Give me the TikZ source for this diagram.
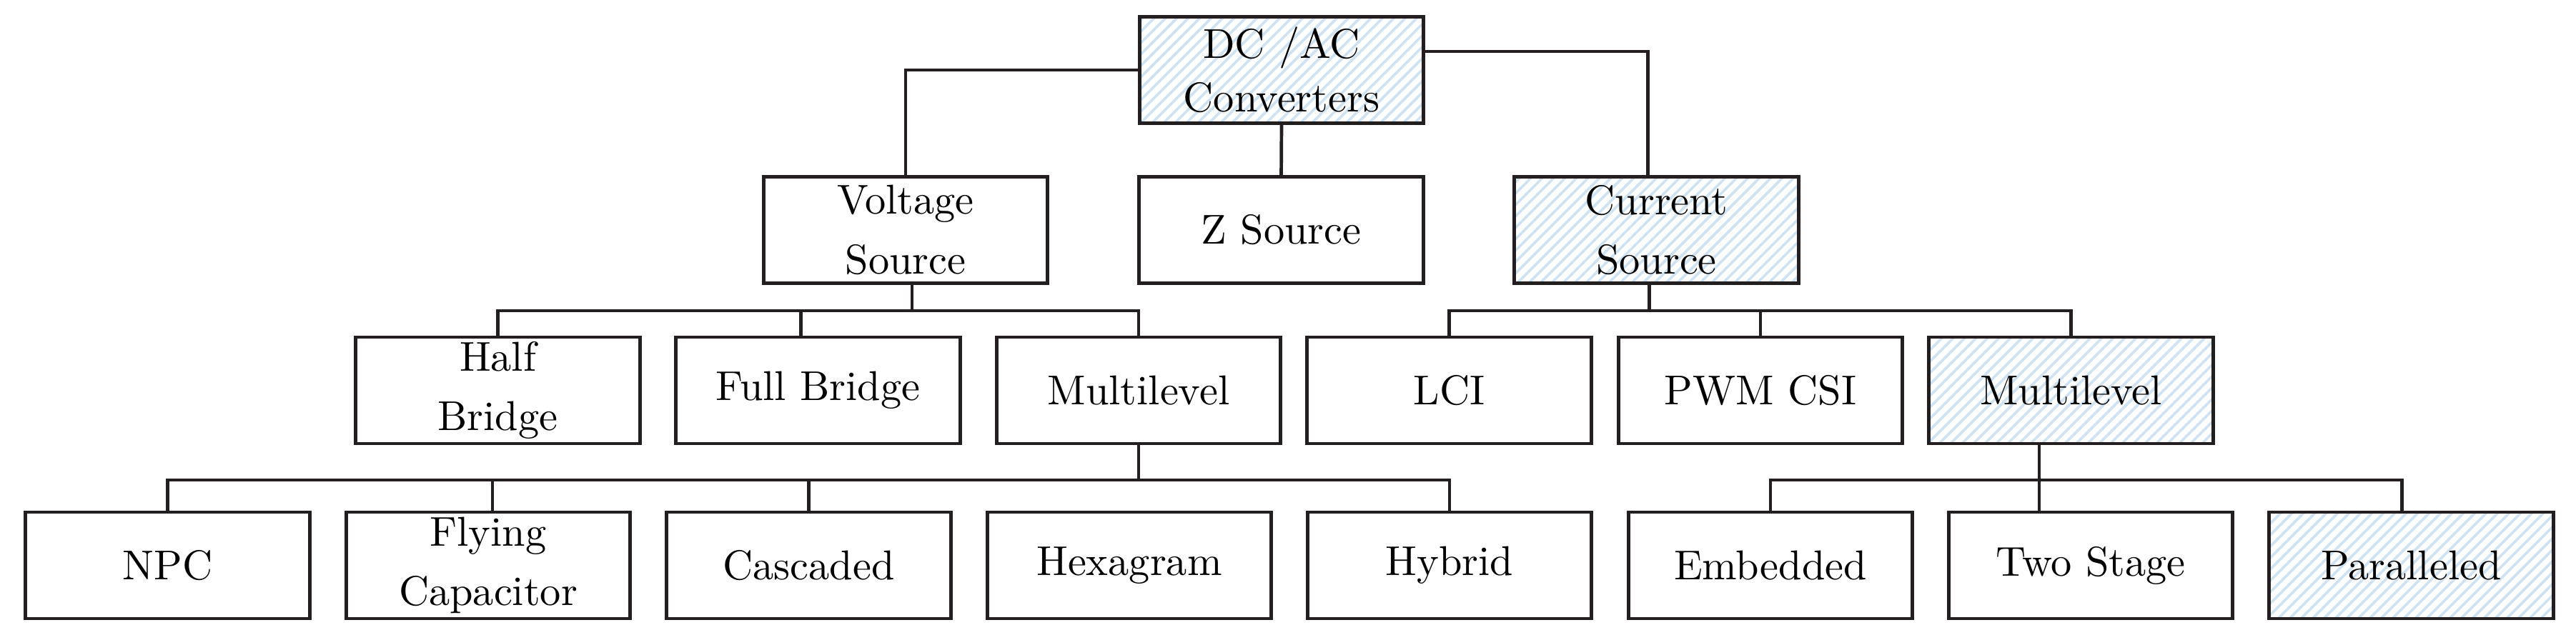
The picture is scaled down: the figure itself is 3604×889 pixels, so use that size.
\documentclass[tikz,border=0pt]{standalone}
\usepackage{fontspec}
\setmainfont{lmroman10-regular.otf}
\usetikzlibrary{calc,patterns.meta}
\definecolor{ink}{RGB}{35,31,32}
\definecolor{hatch}{RGB}{206,226,242}
\tikzset{
  box/.style={draw=ink, line width=0.48mm, minimum width=39.75mm, minimum height=14.9mm,
    inner sep=0pt, outer sep=0pt, align=center, text=black,
    font=\fontsize{16.6pt}{23.8pt}\selectfont},
  hatched/.style={pattern={Lines[angle=45,distance=1.13mm,line width=0.36mm]}, pattern color=hatch},
  conn/.style={draw=ink, line width=0.47mm}
}
\begin{document}
\begin{tikzpicture}[x=0.1mm,y=-0.1mm]
\fill[white] (0,0) rectangle (3604,889);
\useasboundingbox (0,0) rectangle (3604,889);
% row 1
\node[box,hatched,font=\fontsize{16.6pt}{21.3pt}\selectfont] (DC) at (1793,98) {DC /AC\\Converters};
% row 2
\node[box] (VS) at (1267,322) {Voltage\\Source};
\node[box] (ZS) at (1792.5,322) {Z Source};
\node[box,hatched] (CS) at (2317.5,322) {Current\\Source};
% row 3
\node[box] (HB) at (696.5,546.5) {Half\\Bridge};
\node[box] (FB) at (1144.5,546.5) {Full Bridge};
\node[box] (ML) at (1593,546.5) {Multilevel};
\node[box] (LCI) at (2027.5,546.5) {LCI};
\node[box] (PWM) at (2463,546.5) {PWM CSI};
\node[box,hatched] (MR) at (2897.5,546.5) {Multilevel};
% row 4
\node[box] (NPC) at (234.5,791.5) {NPC};
\node[box] (FC) at (683,791.5) {Flying\\Capacitor};
\node[box] (CA) at (1131.5,791.5) {Cascaded};
\node[box] (HX) at (1580,791.5) {Hexagram};
\node[box] (HY) at (2028,791.5) {Hybrid};
\node[box] (EM) at (2477,791.5) {Embedded};
\node[box] (TS) at (2925,791.5) {Two Stage};
\node[box,hatched] (PA) at (3373.5,791.5) {Paralleled};
% bar levels
\coordinate (b3) at (0,435);
\coordinate (b4) at (0,672);
\coordinate (paT) at ($(PA.north)+(-13,0)$);
% connectors
\draw[conn] (DC.west) -| (VS.north);
\draw[conn] ($(DC.east)+(0,-26)$) -| ($(CS.north)+(-12,0)$);
\draw[conn] (DC.south) -- (ZS.north);
\draw[conn] ($(VS.south)+(9,0)$) -- ++(0,38);
\draw[conn] (HB.north) |- (ML.north |- b3) -- (ML.north);
\draw[conn] ($(FB.north)+(-24,0)$) -- ++(0,-36.5);
\draw[conn] ($(CS.south)+(-10,0)$) -- ++(0,38);
\draw[conn] (LCI.north) |- (MR.north |- b3) -- (MR.north);
\draw[conn] (PWM.north) -- ++(0,-36.5);
\draw[conn] (ML.south) -- ++(0,51);
\draw[conn] (NPC.north) |- (HY.north |- b4) -- (HY.north);
\draw[conn] ($(FC.north)+(6,0)$) -- ++(0,-45);
\draw[conn] (CA.north) -- ++(0,-45);
\draw[conn] (EM.north) |- (paT |- b4) -- (paT);
\draw[conn] ($(MR.south)+(-44.5,0)$) -- ($(TS.north)+(-72,0)$);
\end{tikzpicture}
\end{document}
